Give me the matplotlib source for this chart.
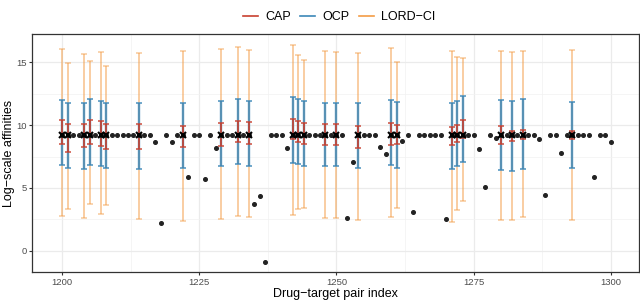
import numpy as np
import matplotlib
matplotlib.use("Agg")
import matplotlib.pyplot as plt
from matplotlib.lines import Line2D

plt.rcParams['font.family'] = ['Liberation Sans', 'DejaVu Sans']

# drug-target pair index and observed affinity (black dots)
pair_idx = list(range(1200, 1301))
affinity = [
    9.23, 9.23, 9.23, 9.23, 9.23, 9.23, 9.23, 9.23, 9.23, 9.23,   # 1200-1209
    9.23, 9.23, 9.23, 9.23, 9.23, 9.23, 9.23, 8.67, 2.20, 9.23,   # 1210-1219
    8.67, 9.23, 9.23, 5.90, 9.23, 9.23, 5.68, 9.23, 8.18, 9.23,   # 1220-1229
    9.23, 9.23, 9.23, 9.23, 9.23, 3.75, 4.35, -0.85, 9.23, 9.23,  # 1230-1239
    9.23, 8.18, 9.23, 9.23, 9.23, 9.23, 9.23, 9.23, 9.23, 9.23,   # 1240-1249
    9.23, 9.23, 2.63, 7.10, 9.23, 9.23, 9.23, 9.23, 8.24, 7.66,   # 1250-1259
    9.23, 9.23, 8.75, 9.23, 3.10, 9.23, 9.23, 9.23, 9.23, 9.23,   # 1260-1269
    2.57, 9.23, 9.23, 9.23, 9.23, 9.23, 8.10, 5.08, 9.23, 9.00,   # 1270-1279
    9.23, 9.23, 9.23, 9.23, 9.23, 9.23, 9.23, 8.86, 4.48, 9.23,   # 1280-1289
    9.23, 7.80, 9.23, 9.23, 9.23, 9.23, 9.23, 5.90, 9.23, 9.23,   # 1290-1299
    8.62,
]

# pairs with prediction intervals
ci_idx = [1200, 1201, 1204, 1205, 1207, 1208, 1214, 1222, 1229, 1232, 1234,
          1242, 1243, 1244, 1248, 1250, 1254, 1260, 1261, 1271, 1272, 1273,
          1280, 1282, 1284, 1293]
pred = [9.23] * len(ci_idx)
lord_hi = [16.03, 14.92, 15.66, 15.10, 15.77, 14.66, 15.71, 15.85, 16.08, 16.22, 15.98,
           16.38, 15.58, 15.13, 15.87, 15.79, 15.74, 16.15, 15.00, 15.90, 15.37, 15.29,
           15.90, 15.77, 15.85, 15.98]
lord_lo = [2.80, 3.36, 2.59, 3.76, 2.91, 3.68, 2.54, 2.41, 2.54, 2.80, 2.70,
           2.83, 3.36, 3.44, 2.62, 2.65, 2.49, 2.72, 3.39, 2.30, 3.28, 3.99,
           2.43, 2.46, 2.67, 2.43]
ocp_hi = [12.01, 11.77, 11.75, 12.04, 11.93, 11.77, 11.72, 11.72, 11.90, 12.09, 11.93,
          12.22, 12.06, 11.90, 11.77, 11.75, 11.72, 12.02, 11.80, 11.72, 11.93, 12.28,
          11.96, 11.90, 12.04, 11.85]
ocp_lo = [6.83, 6.56, 6.53, 6.83, 6.75, 6.59, 6.53, 6.56, 6.72, 6.90, 6.75,
          7.01, 6.88, 6.72, 6.75, 6.75, 6.56, 6.85, 6.61, 6.51, 6.72, 7.06,
          6.40, 6.35, 6.51, 6.61]
cap_hi = [10.40, 10.08, 10.08, 10.40, 10.32, 10.08, 10.05, 9.95, 10.16, 10.34, 10.21,
          10.45, 10.34, 10.13, 10.11, 10.08, 9.92, 10.16, 10.00, 9.81, 10.02, 10.37,
          9.89, 9.52, 9.63, 9.52]
cap_lo = [8.47, 7.86, 8.28, 8.47, 8.36, 8.07, 8.12, 8.28, 8.36, 8.68, 8.52,
          8.89, 8.62, 8.47, 8.39, 8.39, 8.20, 8.41, 8.48, 8.39, 8.62, 8.99,
          8.49, 8.71, 8.86, 8.89]

c_cap = '#C8402F'
c_ocp = '#3C87B8'
c_lord = '#F39C46'

fig, ax = plt.subplots(figsize=(6.4, 3.03), dpi=100)
fig.subplots_adjust(left=0.05, right=0.998, top=0.888, bottom=0.101)

x = np.array(ci_idx)
p = np.array(pred)
ax.errorbar(x, p, yerr=[p - np.array(lord_lo), np.array(lord_hi) - p], fmt='none',
            ecolor=c_lord, alpha=0.5, elinewidth=1.4, capsize=2.2, capthick=1.2, zorder=2)
ax.errorbar(x, p, yerr=[p - np.array(ocp_lo), np.array(ocp_hi) - p], fmt='none',
            ecolor=c_ocp, alpha=0.85, elinewidth=1.7, capsize=2.2, capthick=1.2, zorder=3)
ax.errorbar(x, p, yerr=[p - np.array(cap_lo), np.array(cap_hi) - p], fmt='none',
            ecolor=c_cap, alpha=0.85, elinewidth=1.4, capsize=2.2, capthick=1.2, zorder=4)

ax.plot(pair_idx, affinity, 'o', color='#222222', ms=2.6, zorder=5)
ax.plot(ci_idx, pred, 'x', color='black', ms=4.5, mew=1.5, zorder=6)

ax.set_xlim(1194.5, 1305.1)
ax.set_ylim(-1.71, 17.24)
ax.set_xticks([1200, 1225, 1250, 1275, 1300])
ax.set_yticks([0, 5, 10, 15])
ax.set_xticks([1212.5, 1237.5, 1262.5, 1287.5], minor=True)
ax.set_yticks([2.5, 7.5, 12.5], minor=True)
ax.grid(True, which='major', color='#EBEBEB', lw=0.9)
ax.grid(True, which='minor', color='#F2F2F2', lw=0.5)
ax.set_axisbelow(True)
for s in ax.spines.values():
    s.set_color('#333333')
    s.set_linewidth(0.9)
ax.tick_params(which='major', length=2.5, color='#333333', labelsize=6.8,
               labelcolor='#4D4D4D', pad=1.5)
ax.tick_params(which='minor', length=0)

ax.set_xlabel('Drug\u2212target pair index', fontsize=9, labelpad=1)
ax.set_ylabel('Log\u2212scale affinities', fontsize=9, labelpad=1)

handles = [Line2D([], [], color=c_cap, lw=1.2),
           Line2D([], [], color=c_ocp, lw=1.2),
           Line2D([], [], color=c_lord, lw=1.2)]
fig.legend(handles, ['CAP', 'OCP', 'LORD\u2212CI'], loc='center', bbox_to_anchor=(0.53, 0.944),
           ncol=3, frameon=False, fontsize=9, handlelength=1.2, handletextpad=0.6,
           columnspacing=0.7)

fig.savefig('out.png', dpi=100)
